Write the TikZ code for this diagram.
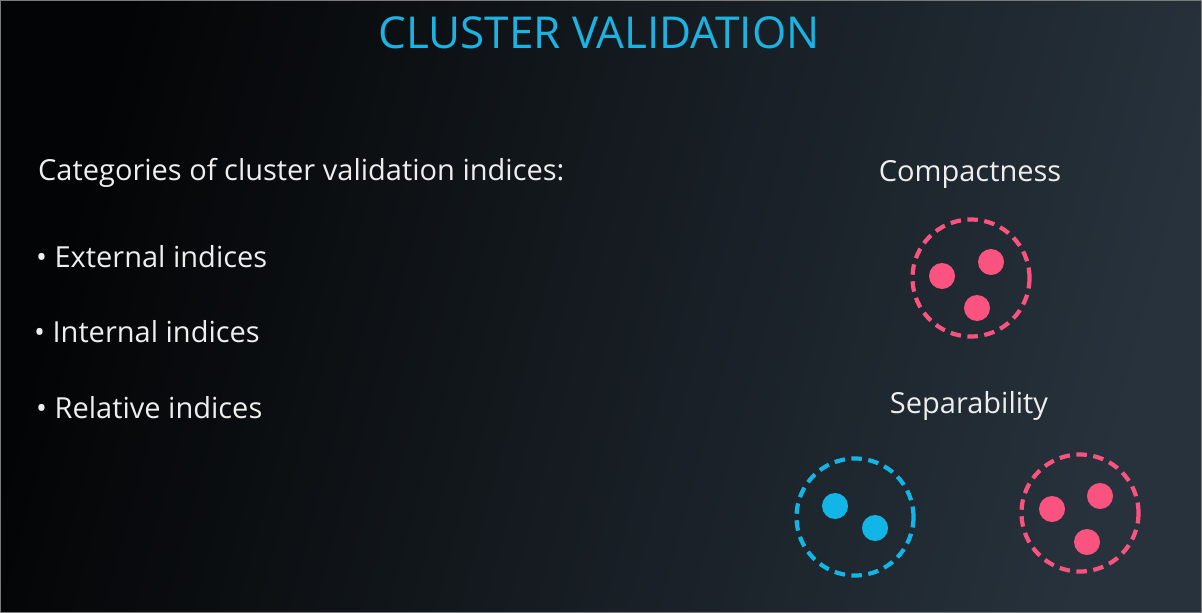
\documentclass[tikz,border=0pt]{standalone}
\usepackage{fontspec}
\setmainfont{Open Sans}
\newfontfamily\titlefont{Open Sans}
\definecolor{bgA}{HTML}{030405}
\definecolor{bgB}{HTML}{27323C}
\definecolor{frame}{HTML}{7A7A7A}
\definecolor{titlecyan}{HTML}{1BB3E2}
\definecolor{txt}{HTML}{EEEEEE}
\definecolor{pinkc}{HTML}{FA5380}
\definecolor{bluec}{HTML}{12B6E6}
\tikzset{
  bodytext/.style={text=txt, inner sep=0pt, font=\fontsize{29}{34}\selectfont},
  clusterring/.style={circle, draw=#1, line width=4.2pt, dash pattern=on 10.5pt off 6.5pt, minimum size=117pt, inner sep=0pt},
  pt/.style={circle, fill=#1, minimum size=26pt, inner sep=0pt},
}
\begin{document}
\begin{tikzpicture}[x=1pt,y=-1pt]
\useasboundingbox (0,0) rectangle (1202,613);
\shade[left color=bgA, right color=bgB, shading angle=75] (0,0) rectangle (1202,613);
\draw[frame, line width=1.2pt] (0.6,0.6) rectangle (1201.4,612.4);
\node[text=titlecyan, inner sep=0pt, anchor=base, font=\titlefont\fontsize{44}{50}\selectfont] (title) at (599,48) {CLUSTER VALIDATION};
\node[bodytext, anchor=base west] (cat) at (38,180) {Categories of cluster validation indices:};
\node[bodytext, anchor=base west] (ext) at (36,267) {\textbullet\ External indices};
\node[bodytext, anchor=base west] (int) at (34,342) {\textbullet\ Internal indices};
\node[bodytext, anchor=base west] (rel) at (36,418) {\textbullet\ Relative indices};
\node[bodytext, anchor=base] (comp) at (970,181) {Compactness};
\node[bodytext, anchor=base] (sep) at (969,413) {Separability};
% compactness cluster
\node[clusterring=pinkc] (c1) at (971,278) {};
\node[pt=pinkc] (c1a) at (942,276) {};
\node[pt=pinkc] (c1b) at (991,262) {};
\node[pt=pinkc] (c1c) at (977,308) {};
% separability clusters
\node[clusterring=bluec] (c2) at (855,517) {};
\node[pt=bluec] (c2a) at (835,506) {};
\node[pt=bluec] (c2b) at (875,528) {};
\node[clusterring=pinkc] (c3) at (1080,513) {};
\node[pt=pinkc] (c3a) at (1052,509) {};
\node[pt=pinkc] (c3b) at (1100,496) {};
\node[pt=pinkc] (c3c) at (1087,542) {};
\end{tikzpicture}
\end{document}
